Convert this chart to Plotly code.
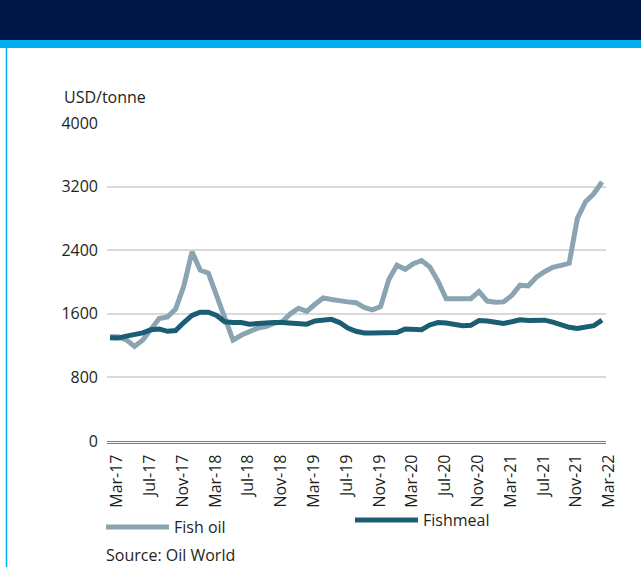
import plotly.graph_objects as go

W, H = 641, 567

months = ["Mar-17", "Apr-17", "May-17", "Jun-17", "Jul-17", "Aug-17", "Sep-17", "Oct-17", "Nov-17", "Dec-17",
          "Jan-18", "Feb-18", "Mar-18", "Apr-18", "May-18", "Jun-18", "Jul-18", "Aug-18", "Sep-18", "Oct-18",
          "Nov-18", "Dec-18", "Jan-19", "Feb-19", "Mar-19", "Apr-19", "May-19", "Jun-19", "Jul-19", "Aug-19",
          "Sep-19", "Oct-19", "Nov-19", "Dec-19", "Jan-20", "Feb-20", "Mar-20", "Apr-20", "May-20", "Jun-20",
          "Jul-20", "Aug-20", "Sep-20", "Oct-20", "Nov-20", "Dec-20", "Jan-21", "Feb-21", "Mar-21", "Apr-21",
          "May-21", "Jun-21", "Jul-21", "Aug-21", "Sep-21", "Oct-21", "Nov-21", "Dec-21", "Jan-22", "Feb-22",
          "Mar-22"]

fish_oil = [1310, 1310, 1270, 1190, 1270, 1400, 1540, 1560, 1660, 1950,
            2380, 2150, 2110, 1830, 1530, 1270, 1330, 1370, 1420, 1440,
            1480, 1500, 1600, 1670, 1630, 1720, 1800, 1780, 1760, 1750,
            1740, 1680, 1650, 1690, 2030, 2210, 2160, 2230, 2270, 2190,
            2010, 1790, 1790, 1790, 1790, 1880, 1760, 1745, 1750, 1830,
            1960, 1950, 2060, 2130, 2185, 2210, 2235, 2800, 3010, 3110,
            3260]

fishmeal = [1300, 1295, 1320, 1340, 1360, 1400, 1410, 1380, 1390, 1490,
            1580, 1620, 1620, 1580, 1500, 1490, 1490, 1470, 1480, 1480,
            1490, 1490, 1480, 1470, 1470, 1510, 1520, 1530, 1490, 1420,
            1380, 1360, 1360, 1365, 1375, 1365, 1410, 1400, 1400, 1460,
            1490, 1485, 1460, 1450, 1455, 1515, 1510, 1495, 1480, 1500,
            1525, 1515, 1515, 1520, 1495, 1460, 1430, 1415, 1430, 1450,
            1520]

tick_labels = months[::4]
y_ticks = [0, 800, 1600, 2400, 3200, 4000]

FONT = "Open Sans"
TXT = "#231f20"
OIL = "#8aa4b1"
MEAL = "#1b5d73"

fig = go.Figure()
fig.add_trace(go.Scatter(x=months, y=fish_oil, mode="lines", name="Fish oil",
                         line=dict(color=OIL, width=5), legend="legend"))
fig.add_trace(go.Scatter(x=months, y=fishmeal, mode="lines", name="Fishmeal",
                         line=dict(color=MEAL, width=5), legend="legend2"))

def px_x(p):
    return p / W

def px_y(p):
    return 1 - p / H

fig.update_layout(
    width=W, height=H,
    margin=dict(l=0, r=0, t=0, b=0, autoexpand=False),
    paper_bgcolor="white", plot_bgcolor="white",
    font=dict(family=FONT, size=16, color=TXT),
    xaxis=dict(
        type="category", domain=[px_x(107), px_x(606)],
        range=[-0.366, 60.49], automargin=False,
        tickmode="array", tickvals=tick_labels, ticktext=tick_labels,
        tickangle=-90, showgrid=False, zeroline=False,
        showline=True, linecolor="#7a7a7a", linewidth=1.2,
        ticks="", ticklabelshift=7, ticklabelstandoff=4,
        tickfont=dict(size=16, color=TXT),
    ),
    yaxis=dict(
        domain=[px_y(443), px_y(123)],
        range=[-25, 4000], automargin=False,
        tickmode="array", tickvals=y_ticks,
        showgrid=True, gridcolor="#d9d9d9", gridwidth=1.5,
        zeroline=True, zerolinecolor="#7a7a7a", zerolinewidth=1.2,
        showline=False, ticks="", ticklabelstandoff=8,
        tickfont=dict(size=16, color=TXT),
    ),
    legend=dict(x=px_x(101), y=px_y(527), xanchor="left", yanchor="middle",
                orientation="h", itemwidth=63, bgcolor="rgba(0,0,0,0)",
                font=dict(size=16, color=TXT)),
    legend2=dict(x=px_x(350), y=px_y(520), xanchor="left", yanchor="middle",
                 orientation="h", itemwidth=63, bgcolor="rgba(0,0,0,0)",
                 font=dict(size=16, color=TXT)),
    showlegend=True,
    shapes=[
        dict(type="rect", xref="paper", yref="paper", x0=0, x1=1,
             y0=px_y(40), y1=1, fillcolor="#001848", line=dict(width=0), layer="below"),
        dict(type="rect", xref="paper", yref="paper", x0=0, x1=1,
             y0=px_y(48), y1=px_y(40), fillcolor="#00aeef", line=dict(width=0), layer="below"),
        dict(type="line", xref="paper", yref="paper", x0=px_x(6.5), x1=px_x(6.5),
             y0=0, y1=px_y(48), line=dict(color="#00aeef", width=1.5), layer="below"),
    ],
    annotations=[
        dict(text="USD/tonne", xref="paper", yref="paper", x=px_x(62), y=px_y(97),
             xanchor="left", yanchor="middle", showarrow=False,
             font=dict(size=16, color=TXT)),
        dict(text="Source: Oil World", xref="paper", yref="paper", x=px_x(104), y=px_y(555),
             xanchor="left", yanchor="middle", showarrow=False,
             font=dict(size=16, color=TXT)),
    ],
)

fig.write_html("out.html", config={"displayModeBar": False},
               post_script="document.body.style.margin='0';document.body.style.padding='0';document.documentElement.style.overflow='hidden';")
